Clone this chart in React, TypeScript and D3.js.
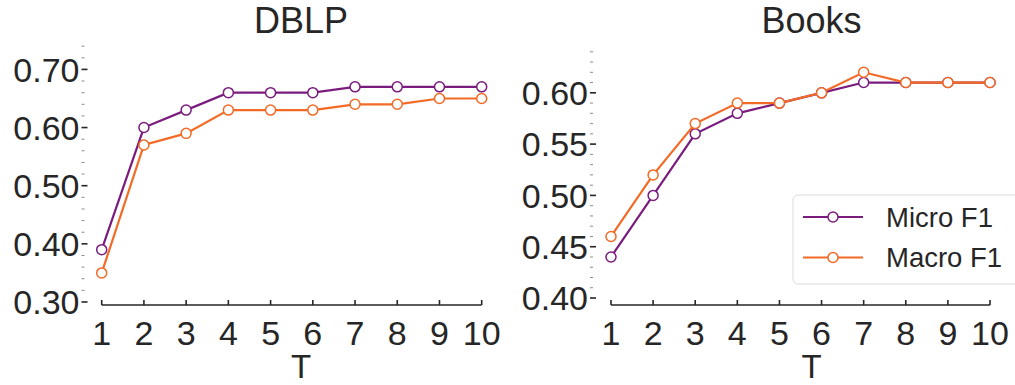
import React from 'react';
import * as d3 from 'd3';

const T_VALUES = [1, 2, 3, 4, 5, 6, 7, 8, 9, 10];

const dblpMicro = [0.39, 0.60, 0.63, 0.66, 0.66, 0.66, 0.67, 0.67, 0.67, 0.67];
const dblpMacro = [0.35, 0.57, 0.59, 0.63, 0.63, 0.63, 0.64, 0.64, 0.65, 0.65];
const booksMicro = [0.44, 0.50, 0.56, 0.58, 0.59, 0.60, 0.61, 0.61, 0.61, 0.61];
const booksMacro = [0.46, 0.52, 0.57, 0.59, 0.59, 0.60, 0.62, 0.61, 0.61, 0.61];

const dblpTicks = [0.3, 0.4, 0.5, 0.6, 0.7];
const booksTicks = [0.40, 0.45, 0.50, 0.55, 0.60];

const SERIES_NAMES = ['Micro F1', 'Macro F1'];
const COLORS = ['#7a1c7d', '#f26a25'];
const TEXT = '#262626';
const FONT = '"Liberation Sans", Arial, sans-serif';

type PanelProps = {
  title: string;
  micro: number[];
  macro: number[];
  majorTicks: number[];
  minorStep: number;
  yDomain: [number, number];
  xRange: [number, number];
  spineX: number;
  centerX: number;
};

const Panel = ({ title, micro, macro, majorTicks, minorStep, yDomain, xRange, spineX, centerX }: PanelProps) => {
  const top = 45;
  const bottom = 305;
  const x = d3.scaleLinear().domain([1, 10]).range(xRange);
  const y = d3.scaleLinear().domain(yDomain).range([bottom, top]);

  // minor ticks from first major up to top of the axes
  const minor: number[] = [];
  for (let v = majorTicks[0]; v <= yDomain[1] + 1e-9; v += minorStep) {
    const r = Math.round(v * 1000) / 1000;
    if (!majorTicks.some(m => Math.abs(m - r) < 1e-6)) minor.push(r);
  }

  const line = d3.line<number>()
    .x((_, i) => x(T_VALUES[i]))
    .y(d => y(d));

  const series = [micro, macro];

  return (
    <g>
      <text x={centerX} y={33} textAnchor="middle" fontSize={36} fill={TEXT}>{title}</text>

      {/* y ticks */}
      {minor.map(v => (
        <line key={`mi-${v}`} x1={spineX} x2={spineX + 3} y1={y(v)} y2={y(v)} stroke="#8a8a8a" strokeWidth={1} />
      ))}
      {majorTicks.map(v => (
        <g key={`ma-${v}`}>
          <line x1={spineX} x2={spineX + 6} y1={y(v)} y2={y(v)} stroke={TEXT} strokeWidth={1.6} />
          <text x={spineX - 2} y={y(v)} dy="0.36em" textAnchor="end" fontSize={34} fill={TEXT}>
            {v.toFixed(2)}
          </text>
        </g>
      ))}

      {/* x axis */}
      <line x1={x(1)} x2={x(10)} y1={bottom} y2={bottom} stroke={TEXT} strokeWidth={1.3} />
      {T_VALUES.map(t => (
        <g key={`x-${t}`}>
          <line x1={x(t)} x2={x(t)} y1={bottom} y2={bottom - 5} stroke={TEXT} strokeWidth={1.6} />
          <text x={x(t)} y={345} textAnchor="middle" fontSize={34} fill={TEXT}>{t}</text>
        </g>
      ))}
      <text x={centerX} y={378} textAnchor="middle" fontSize={33} fill={TEXT}>T</text>

      {/* series */}
      {series.map((vals, si) => (
        <g key={`s-${si}`}>
          <path d={line(vals) ?? ''} fill="none" stroke={COLORS[si]} strokeWidth={2.2} />
          {vals.map((v, i) => (
            <circle key={i} cx={x(T_VALUES[i])} cy={y(v)} r={5} fill="#fff" stroke={COLORS[si]} strokeWidth={1.5} />
          ))}
        </g>
      ))}
    </g>
  );
};

const Legend = () => {
  const rows = [217, 257.5];
  return (
    <g>
      <rect x={793} y={195} width={230} height={89} rx={5} fill="#fff" stroke="#dcdcdc" strokeWidth={1} />
      {SERIES_NAMES.map((name, i) => (
        <g key={name}>
          <line x1={803} x2={863} y1={rows[i]} y2={rows[i]} stroke={COLORS[i]} strokeWidth={2.2} />
          <circle cx={833} cy={rows[i]} r={5} fill="#fff" stroke={COLORS[i]} strokeWidth={1.5} />
          <text x={886} y={rows[i]} dy="0.36em" fontSize={27.5} fill={TEXT}>{name}</text>
        </g>
      ))}
    </g>
  );
};

export default function App() {
  return (
    <div style={{ position: 'absolute', left: 0, top: 0 }}>
      <svg width={1015} height={385} style={{ display: 'block', fontFamily: FONT, background: '#fff' }}>
        <Panel
          title="DBLP"
          micro={dblpMicro}
          macro={dblpMacro}
          majorTicks={dblpTicks}
          minorStep={0.02}
          yDomain={[0.2948, 0.742]}
          xRange={[101.7, 481.7]}
          spineX={81.5}
          centerX={301}
        />
        <Panel
          title="Books"
          micro={booksMicro}
          macro={booksMacro}
          majorTicks={booksTicks}
          minorStep={0.01}
          yDomain={[0.3932, 0.6466]}
          xRange={[611, 990]}
          spineX={590}
          centerX={811.5}
        />
        <Legend />
      </svg>
    </div>
  );
}
